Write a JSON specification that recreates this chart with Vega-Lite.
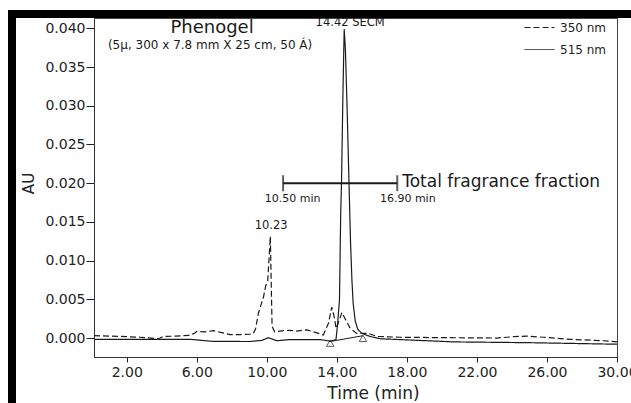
{
  "$schema": "https://vega.github.io/schema/vega-lite/v6.json",
  "width": 523,
  "height": 339,
  "autosize": {"type": "none"},
  "padding": {"left": 94, "top": 18, "right": 14, "bottom": 46},
  "background": "white",
  "config": {
    "view": {"stroke": "#444", "strokeWidth": 1},
    "font": "DejaVu Sans",
    "axis": {"labelFont": "DejaVu Sans", "titleFont": "DejaVu Sans", "labelColor": "#222", "titleColor": "#222", "domainColor": "#333", "tickColor": "#222", "grid": false, "titleFontWeight": "normal"},
    "legend": {"labelFont": "DejaVu Sans", "strokeWidth": 8, "strokeDash": [622, 998, 392, 0]}
  },
  "datasets": {
    "traces": [
      {"series": "350 nm", "t": 0.13, "au": 0.0003},
      {"series": "350 nm", "t": 1.0, "au": 0.00025},
      {"series": "350 nm", "t": 1.62, "au": 0.00022},
      {"series": "350 nm", "t": 2.76, "au": 0.0001},
      {"series": "350 nm", "t": 3.4, "au": 0.0},
      {"series": "350 nm", "t": 3.71, "au": -0.0001},
      {"series": "350 nm", "t": 3.9, "au": 0.0},
      {"series": "350 nm", "t": 4.09, "au": 0.0002},
      {"series": "350 nm", "t": 4.8, "au": 0.00025},
      {"series": "350 nm", "t": 5.62, "au": 0.00035},
      {"series": "350 nm", "t": 5.85, "au": 0.0006},
      {"series": "350 nm", "t": 6.0, "au": 0.00086},
      {"series": "350 nm", "t": 6.47, "au": 0.0008},
      {"series": "350 nm", "t": 6.95, "au": 0.00095},
      {"series": "350 nm", "t": 7.43, "au": 0.0007},
      {"series": "350 nm", "t": 7.9, "au": 0.00043},
      {"series": "350 nm", "t": 8.5, "au": 0.00045},
      {"series": "350 nm", "t": 9.05, "au": 0.0005},
      {"series": "350 nm", "t": 9.23, "au": 0.0006},
      {"series": "350 nm", "t": 9.36, "au": 0.0012},
      {"series": "350 nm", "t": 9.52, "au": 0.0032},
      {"series": "350 nm", "t": 9.81, "au": 0.0053},
      {"series": "350 nm", "t": 9.94, "au": 0.0068},
      {"series": "350 nm", "t": 10.05, "au": 0.0073},
      {"series": "350 nm", "t": 10.2, "au": 0.0131},
      {"series": "350 nm", "t": 10.3, "au": 0.0015},
      {"series": "350 nm", "t": 10.45, "au": 0.0008},
      {"series": "350 nm", "t": 10.95, "au": 0.00095},
      {"series": "350 nm", "t": 11.23, "au": 0.001},
      {"series": "350 nm", "t": 11.71, "au": 0.0009},
      {"series": "350 nm", "t": 12.0, "au": 0.001},
      {"series": "350 nm", "t": 12.29, "au": 0.00105},
      {"series": "350 nm", "t": 12.66, "au": 0.0008},
      {"series": "350 nm", "t": 13.23, "au": 0.0004},
      {"series": "350 nm", "t": 13.52, "au": 0.0019},
      {"series": "350 nm", "t": 13.71, "au": 0.004},
      {"series": "350 nm", "t": 13.85, "au": 0.0027},
      {"series": "350 nm", "t": 13.96, "au": 0.00125},
      {"series": "350 nm", "t": 14.09, "au": 0.002},
      {"series": "350 nm", "t": 14.29, "au": 0.0033},
      {"series": "350 nm", "t": 14.47, "au": 0.0025},
      {"series": "350 nm", "t": 14.76, "au": 0.00125},
      {"series": "350 nm", "t": 15.14, "au": 0.0006},
      {"series": "350 nm", "t": 15.52, "au": 0.0006},
      {"series": "350 nm", "t": 15.81, "au": 0.0006},
      {"series": "350 nm", "t": 16.29, "au": 0.0002},
      {"series": "350 nm", "t": 17.6, "au": 0.0001},
      {"series": "350 nm", "t": 20.0, "au": 0.00005},
      {"series": "350 nm", "t": 23.14, "au": 0.0},
      {"series": "350 nm", "t": 24.09, "au": 0.00017},
      {"series": "350 nm", "t": 24.86, "au": 0.00025},
      {"series": "350 nm", "t": 25.8, "au": 0.0001},
      {"series": "350 nm", "t": 27.33, "au": -0.00017},
      {"series": "350 nm", "t": 29.23, "au": -0.00035},
      {"series": "350 nm", "t": 30.0, "au": -0.0005},
      {"series": "515 nm", "t": 0.13, "au": -0.00017},
      {"series": "515 nm", "t": 3.0, "au": -0.00017},
      {"series": "515 nm", "t": 5.62, "au": -0.00017},
      {"series": "515 nm", "t": 6.93, "au": -0.00043},
      {"series": "515 nm", "t": 9.05, "au": -0.00045},
      {"series": "515 nm", "t": 9.73, "au": -0.0003},
      {"series": "515 nm", "t": 10.09, "au": 0.00004},
      {"series": "515 nm", "t": 10.57, "au": -0.00035},
      {"series": "515 nm", "t": 11.33, "au": -0.0002},
      {"series": "515 nm", "t": 13.05, "au": -0.0002},
      {"series": "515 nm", "t": 13.62, "au": -0.0004},
      {"series": "515 nm", "t": 13.95, "au": -0.0002},
      {"series": "515 nm", "t": 14.03, "au": 0.0015},
      {"series": "515 nm", "t": 14.15, "au": 0.0049},
      {"series": "515 nm", "t": 14.22, "au": 0.016},
      {"series": "515 nm", "t": 14.27, "au": 0.0205},
      {"series": "515 nm", "t": 14.34, "au": 0.0307},
      {"series": "515 nm", "t": 14.42, "au": 0.0399},
      {"series": "515 nm", "t": 14.49, "au": 0.0372},
      {"series": "515 nm", "t": 14.6, "au": 0.0285},
      {"series": "515 nm", "t": 14.7, "au": 0.0195},
      {"series": "515 nm", "t": 14.78, "au": 0.0125},
      {"series": "515 nm", "t": 14.86, "au": 0.0075},
      {"series": "515 nm", "t": 14.93, "au": 0.0045},
      {"series": "515 nm", "t": 15.05, "au": 0.0022},
      {"series": "515 nm", "t": 15.2, "au": 0.0011},
      {"series": "515 nm", "t": 15.43, "au": 0.0006},
      {"series": "515 nm", "t": 15.9, "au": 0.0002},
      {"series": "515 nm", "t": 16.5, "au": -0.0001},
      {"series": "515 nm", "t": 17.6, "au": -0.0002},
      {"series": "515 nm", "t": 20.7, "au": -0.0005},
      {"series": "515 nm", "t": 25.0, "au": -0.0006},
      {"series": "515 nm", "t": 30.0, "au": -0.0008}
    ],
    "baseline": [
      {"t": 13.62, "au": -0.00045},
      {"t": 15.49, "au": 0.0003}
    ],
    "marks": [
      {"t": 13.62, "au": -0.00066, "kind": "integration"},
      {"t": 15.49, "au": -0.00004, "kind": "integration"}
    ]
  },
  "layer": [
    {
      "data": {"name": "traces"},
      "mark": {"type": "line", "color": "#1a1a1a", "strokeWidth": 1.2, "clip": true},
      "encoding": {
        "x": {
          "field": "t", "type": "quantitative",
          "scale": {"domain": [0.13, 30], "nice": false, "zero": false},
          "axis": {
            "orient": "bottom", "title": "Time (min)",
            "values": [2, 4, 6, 8, 10, 12, 14, 16, 18, 20, 22, 24, 26, 28, 30],
            "format": ".2f", "labelExpr": "datum.value % 4 == 2 ? datum.label : ''",
            "tickSize": 5, "labelPadding": 3, "labelFontSize": 14, "labelFlush": false, "labelOverlap": false,
            "titleFontSize": 17, "titleX": 279, "titleY": 36, "titleBaseline": "middle", "titleAlign": "center"
          }
        },
        "y": {
          "field": "au", "type": "quantitative",
          "scale": {"domain": [-0.00245, 0.04134], "nice": false, "zero": false},
          "axis": {
            "orient": "left", "title": "AU",
            "values": [0, 0.005, 0.01, 0.015, 0.02, 0.025, 0.03, 0.035, 0.04],
            "format": ".3f", "tickSize": 8, "labelPadding": 1, "labelFontSize": 14, "labelOverlap": false,
            "titleFontSize": 15, "titleX": -66, "titleY": 165, "titleAlign": "center", "titleBaseline": "middle", "titleAngle": -90
          }
        },
        "strokeDash": {
          "field": "series", "type": "nominal",
          "scale": {"domain": ["350 nm", "515 nm"], "range": [[6, 3], [1, 0]]},
          "legend": {
            "orient": "none", "legendX": 430, "legendY": -6, "title": null, "padding": 0,
            "symbolType": "stroke", "symbolSize": 900, "symbolStrokeWidth": 1, "symbolStrokeColor": "#222",
            "labelFontSize": 12, "labelColor": "#222", "labelOffset": 5, "rowPadding": -24
          }
        }
      }
    },
    {
      "data": {"name": "baseline"},
      "mark": {"type": "line", "color": "#1a1a1a", "strokeWidth": 1},
      "encoding": {
        "x": {"field": "t", "type": "quantitative"},
        "y": {"field": "au", "type": "quantitative"}
      }
    },
    {
      "data": {"name": "marks"},
      "mark": {"type": "point", "filled": false, "size": 55, "strokeWidth": 1, "color": "#1a1a1a"},
      "encoding": {
        "x": {"field": "t", "type": "quantitative"},
        "y": {"field": "au", "type": "quantitative"},
        "shape": {
          "field": "kind", "type": "nominal",
          "scale": {"range": ["triangle-up"]},
          "legend": {
            "orient": "none", "legendX": -82, "legendY": -4, "padding": 300, "strokeColor": "black", "title": null,
            "symbolOpacity": 0, "labelOpacity": 0
          }
        }
      }
    },
    {
      "data": {"values": [{"start": 10.93, "end": 17.45, "au": 0.02}]},
      "mark": {"type": "rule", "color": "#1a1a1a", "strokeWidth": 2},
      "encoding": {
        "x": {"field": "start", "type": "quantitative"},
        "x2": {"field": "end"},
        "y": {"field": "au", "type": "quantitative"}
      }
    },
    {
      "data": {"values": [{"t": 10.93, "au": 0.02}, {"t": 17.45, "au": 0.02}]},
      "mark": {"type": "tick", "orient": "vertical", "color": "#1a1a1a", "size": 16, "thickness": 2},
      "encoding": {
        "x": {"field": "t", "type": "quantitative"},
        "y": {"field": "au", "type": "quantitative"}
      }
    },
    {
      "data": {"values": [{"t": 6.87, "au": 0.04005, "label": "Phenogel"}]},
      "mark": {"type": "text", "font": "DejaVu Sans", "fontSize": 18, "align": "center", "baseline": "middle", "color": "#1a1a1a"},
      "encoding": {
        "x": {"field": "t", "type": "quantitative"},
        "y": {"field": "au", "type": "quantitative"},
        "text": {"field": "label"}
      }
    },
    {
      "data": {"values": [{"t": 6.76, "au": 0.03786, "label": "(5µ, 300 x 7.8 mm X 25 cm, 50 Á)"}]},
      "mark": {"type": "text", "font": "DejaVu Sans", "fontSize": 12, "align": "center", "baseline": "middle", "color": "#1a1a1a"},
      "encoding": {
        "x": {"field": "t", "type": "quantitative"},
        "y": {"field": "au", "type": "quantitative"},
        "text": {"field": "label"}
      }
    },
    {
      "data": {"values": [{"t": 10.25, "au": 0.0145, "label": "10.23"}, {"t": 14.76, "au": 0.0407, "label": "14.42 SECM"}]},
      "mark": {"type": "text", "font": "DejaVu Sans", "fontSize": 11.5, "align": "center", "baseline": "middle", "color": "#1a1a1a"},
      "encoding": {
        "x": {"field": "t", "type": "quantitative"},
        "y": {"field": "au", "type": "quantitative"},
        "text": {"field": "label"}
      }
    },
    {
      "data": {"values": [{"t": 11.47, "au": 0.01796, "label": "10.50 min"}, {"t": 18.05, "au": 0.01796, "label": "16.90 min"}]},
      "mark": {"type": "text", "font": "DejaVu Sans", "fontSize": 11, "align": "center", "baseline": "middle", "color": "#1a1a1a"},
      "encoding": {
        "x": {"field": "t", "type": "quantitative"},
        "y": {"field": "au", "type": "quantitative"},
        "text": {"field": "label"}
      }
    },
    {
      "data": {"values": [{"t": 17.73, "au": 0.0201, "label": "Total fragrance fraction"}]},
      "mark": {"type": "text", "font": "DejaVu Sans", "fontSize": 17, "align": "left", "baseline": "middle", "color": "#1a1a1a"},
      "encoding": {
        "x": {"field": "t", "type": "quantitative"},
        "y": {"field": "au", "type": "quantitative"},
        "text": {"field": "label"}
      }
    }
  ]
}
